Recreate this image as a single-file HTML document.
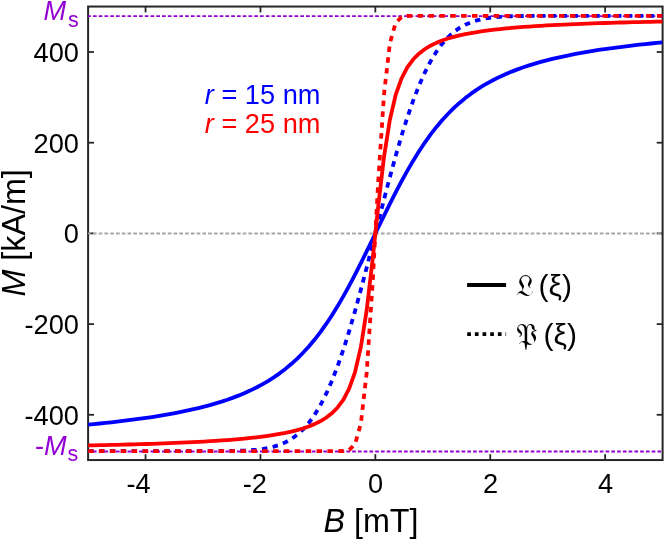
<!DOCTYPE html>
<html><head><meta charset="utf-8"><title>M-B curves</title>
<style>html,body{margin:0;padding:0;background:#fff;}body{width:665px;height:540px;overflow:hidden;font-family:"Liberation Sans",sans-serif;}</style></head>
<body>
<svg width="665" height="540" viewBox="0 0 665 540" style="display:block;will-change:transform">
<rect width="665" height="540" fill="#fff"/>
<defs><clipPath id="c"><rect x="88.1" y="5.55" width="574.5" height="455.5"/></clipPath></defs>
<rect x="88.1" y="6.55" width="574.5" height="453.5" fill="none" stroke="#262626" stroke-width="2.0"/>
<line x1="145.55" x2="145.55" y1="460.05" y2="454.15000000000003" stroke="#262626" stroke-width="1.8"/>
<line x1="145.55" x2="145.55" y1="6.55" y2="12.45" stroke="#262626" stroke-width="1.8"/>
<line x1="260.45" x2="260.45" y1="460.05" y2="454.15000000000003" stroke="#262626" stroke-width="1.8"/>
<line x1="260.45" x2="260.45" y1="6.55" y2="12.45" stroke="#262626" stroke-width="1.8"/>
<line x1="375.35" x2="375.35" y1="460.05" y2="454.15000000000003" stroke="#262626" stroke-width="1.8"/>
<line x1="375.35" x2="375.35" y1="6.55" y2="12.45" stroke="#262626" stroke-width="1.8"/>
<line x1="490.25" x2="490.25" y1="460.05" y2="454.15000000000003" stroke="#262626" stroke-width="1.8"/>
<line x1="490.25" x2="490.25" y1="6.55" y2="12.45" stroke="#262626" stroke-width="1.8"/>
<line x1="605.15" x2="605.15" y1="460.05" y2="454.15000000000003" stroke="#262626" stroke-width="1.8"/>
<line x1="605.15" x2="605.15" y1="6.55" y2="12.45" stroke="#262626" stroke-width="1.8"/>
<line x1="88.1" x2="94.0" y1="414.80" y2="414.80" stroke="#262626" stroke-width="1.8"/>
<line x1="662.6" x2="656.7" y1="414.80" y2="414.80" stroke="#262626" stroke-width="1.8"/>
<line x1="88.1" x2="94.0" y1="324.10" y2="324.10" stroke="#262626" stroke-width="1.8"/>
<line x1="662.6" x2="656.7" y1="324.10" y2="324.10" stroke="#262626" stroke-width="1.8"/>
<line x1="88.1" x2="94.0" y1="233.40" y2="233.40" stroke="#262626" stroke-width="1.8"/>
<line x1="662.6" x2="656.7" y1="233.40" y2="233.40" stroke="#262626" stroke-width="1.8"/>
<line x1="88.1" x2="94.0" y1="142.70" y2="142.70" stroke="#262626" stroke-width="1.8"/>
<line x1="662.6" x2="656.7" y1="142.70" y2="142.70" stroke="#262626" stroke-width="1.8"/>
<line x1="88.1" x2="94.0" y1="52.00" y2="52.00" stroke="#262626" stroke-width="1.8"/>
<line x1="662.6" x2="656.7" y1="52.00" y2="52.00" stroke="#262626" stroke-width="1.8"/>
<line x1="88.1" x2="662.6" y1="233.45" y2="233.45" stroke="#a6a6a6" stroke-width="1.9" stroke-dasharray="3.7 2.06" stroke-dashoffset="0.92"/>
<line x1="88.1" x2="662.6" y1="16.12" y2="16.12" stroke="#9400d3" stroke-width="1.8" stroke-dasharray="3.7 2.06" stroke-dashoffset="0.92"/>
<line x1="88.1" x2="662.6" y1="451.48" y2="451.48" stroke="#9400d3" stroke-width="1.8" stroke-dasharray="3.7 2.06" stroke-dashoffset="0.92"/>
<g clip-path="url(#c)" fill="none" stroke-linejoin="round" transform="translate(0,0.2)">
<path d="M88.10,424.41 L93.90,423.86 L99.71,423.29 L105.51,422.69 L111.31,422.07 L117.12,421.42 L122.92,420.74 L128.72,420.03 L134.52,419.28 L140.33,418.50 L146.13,417.68 L151.93,416.82 L157.74,415.90 L163.54,414.94 L169.34,413.93 L175.15,412.86 L180.95,411.72 L186.75,410.52 L192.55,409.23 L198.36,407.87 L204.16,406.42 L209.96,404.86 L215.77,403.20 L221.57,401.41 L227.37,399.49 L233.18,397.42 L238.98,395.19 L244.78,392.77 L250.58,390.15 L256.39,387.31 L262.19,384.21 L267.99,380.83 L273.80,377.15 L279.60,373.12 L285.40,368.71 L291.21,363.88 L297.01,358.59 L302.81,352.81 L308.62,346.50 L314.42,339.61 L320.22,332.13 L326.02,324.02 L331.83,315.29 L337.63,305.92 L343.43,295.96 L349.24,285.44 L355.04,274.42 L360.84,262.98 L366.65,251.24 L372.45,239.30 L378.25,227.30 L384.05,215.36 L389.86,203.62 L395.66,192.18 L401.46,181.16 L407.27,170.64 L413.07,160.68 L418.87,151.31 L424.68,142.58 L430.48,134.47 L436.28,126.99 L442.08,120.10 L447.89,113.79 L453.69,108.01 L459.49,102.72 L465.30,97.89 L471.10,93.48 L476.90,89.45 L482.71,85.77 L488.51,82.39 L494.31,79.29 L500.12,76.45 L505.92,73.83 L511.72,71.41 L517.52,69.18 L523.33,67.11 L529.13,65.19 L534.93,63.40 L540.74,61.74 L546.54,60.18 L552.34,58.73 L558.15,57.37 L563.95,56.08 L569.75,54.88 L575.55,53.74 L581.36,52.67 L587.16,51.66 L592.96,50.70 L598.77,49.78 L604.57,48.92 L610.37,48.10 L616.18,47.32 L621.98,46.57 L627.78,45.86 L633.58,45.18 L639.39,44.53 L645.19,43.91 L650.99,43.31 L656.80,42.74 L662.60,42.19" stroke="#0000ff" stroke-width="3.8"/>
<path d="M88.10,450.98 L93.90,450.98 L99.71,450.98 L105.51,450.98 L111.31,450.98 L117.12,450.98 L122.92,450.98 L128.72,450.98 L134.52,450.98 L140.33,450.98 L146.13,450.98 L151.93,450.98 L157.74,450.98 L163.54,450.98 L169.34,450.98 L175.15,450.98 L180.95,450.98 L186.75,450.98 L192.55,450.97 L198.36,450.97 L204.16,450.96 L209.96,450.94 L215.77,450.92 L221.57,450.88 L227.37,450.81 L233.18,450.72 L238.98,450.56 L244.78,450.33 L250.58,449.99 L256.39,449.50 L262.19,448.80 L267.99,447.81 L273.80,446.44 L279.60,444.59 L285.40,442.12 L291.21,438.89 L297.01,434.73 L302.81,429.46 L308.62,422.92 L314.42,414.93 L320.22,405.33 L326.02,394.01 L331.83,380.88 L337.63,365.92 L343.43,349.17 L349.24,330.74 L355.04,310.80 L360.84,289.61 L366.65,267.48 L372.45,244.76 L378.25,221.84 L384.05,199.12 L389.86,176.99 L395.66,155.80 L401.46,135.86 L407.27,117.43 L413.07,100.68 L418.87,85.72 L424.68,72.59 L430.48,61.27 L436.28,51.67 L442.08,43.68 L447.89,37.14 L453.69,31.87 L459.49,27.71 L465.30,24.48 L471.10,22.01 L476.90,20.16 L482.71,18.79 L488.51,17.80 L494.31,17.10 L500.12,16.61 L505.92,16.27 L511.72,16.04 L517.52,15.88 L523.33,15.79 L529.13,15.72 L534.93,15.68 L540.74,15.66 L546.54,15.64 L552.34,15.63 L558.15,15.63 L563.95,15.62 L569.75,15.62 L575.55,15.62 L581.36,15.62 L587.16,15.62 L592.96,15.62 L598.77,15.62 L604.57,15.62 L610.37,15.62 L616.18,15.62 L621.98,15.62 L627.78,15.62 L633.58,15.62 L639.39,15.62 L645.19,15.62 L650.99,15.62 L656.80,15.62 L662.60,15.62" stroke="#0000ff" stroke-width="3.8" stroke-dasharray="5.5 5.37"/>
<path d="M88.10,445.24 L93.90,445.12 L99.71,445.00 L105.51,444.87 L111.31,444.74 L117.12,444.60 L122.92,444.45 L128.72,444.29 L134.52,444.13 L140.33,443.96 L146.13,443.79 L151.93,443.60 L157.74,443.40 L163.54,443.20 L169.34,442.98 L175.15,442.74 L180.95,442.50 L186.75,442.24 L192.55,441.96 L198.36,441.66 L204.16,441.35 L209.96,441.01 L215.77,440.65 L221.57,440.26 L227.37,439.84 L233.18,439.38 L238.98,438.89 L244.78,438.35 L250.58,437.76 L256.39,437.12 L262.19,436.41 L267.99,435.62 L273.80,434.74 L279.60,433.76 L285.40,432.65 L291.21,431.39 L297.01,429.93 L302.81,428.25 L308.62,426.27 L314.42,423.92 L320.22,421.07 L326.02,417.55 L331.83,413.10 L337.63,407.29 L343.43,399.42 L349.24,388.28 L355.04,371.85 L360.84,346.98 L366.65,310.16 L372.45,260.83 L378.25,205.77 L384.05,156.44 L389.86,119.62 L395.66,94.75 L401.46,78.32 L407.27,67.18 L413.07,59.31 L418.87,53.50 L424.68,49.05 L430.48,45.53 L436.28,42.68 L442.08,40.33 L447.89,38.35 L453.69,36.67 L459.49,35.21 L465.30,33.95 L471.10,32.84 L476.90,31.86 L482.71,30.98 L488.51,30.19 L494.31,29.48 L500.12,28.84 L505.92,28.25 L511.72,27.71 L517.52,27.22 L523.33,26.76 L529.13,26.34 L534.93,25.95 L540.74,25.59 L546.54,25.25 L552.34,24.94 L558.15,24.64 L563.95,24.36 L569.75,24.10 L575.55,23.86 L581.36,23.62 L587.16,23.40 L592.96,23.20 L598.77,23.00 L604.57,22.81 L610.37,22.64 L616.18,22.47 L621.98,22.31 L627.78,22.15 L633.58,22.00 L639.39,21.86 L645.19,21.73 L650.99,21.60 L656.80,21.48 L662.60,21.36" stroke="#ff0000" stroke-width="3.8"/>
<path d="M88.10,450.98 L93.90,450.98 L99.71,450.98 L105.51,450.98 L111.31,450.98 L117.12,450.98 L122.92,450.98 L128.72,450.98 L134.52,450.98 L140.33,450.98 L146.13,450.98 L151.93,450.98 L157.74,450.98 L163.54,450.98 L169.34,450.98 L175.15,450.98 L180.95,450.98 L186.75,450.98 L192.55,450.98 L198.36,450.98 L204.16,450.98 L209.96,450.98 L215.77,450.98 L221.57,450.98 L227.37,450.98 L233.18,450.98 L238.98,450.98 L244.78,450.98 L250.58,450.98 L256.39,450.98 L262.19,450.98 L267.99,450.98 L273.80,450.98 L279.60,450.98 L285.40,450.98 L291.21,450.98 L297.01,450.98 L302.81,450.98 L308.62,450.98 L314.42,450.98 L320.22,450.98 L326.02,450.98 L331.83,450.98 L337.63,450.96 L343.43,450.81 L349.24,449.69 L355.04,443.93 L360.84,423.45 L366.65,372.80 L372.45,285.57 L378.25,181.03 L384.05,93.80 L389.86,43.15 L395.66,22.67 L401.46,16.91 L407.27,15.79 L413.07,15.64 L418.87,15.62 L424.68,15.62 L430.48,15.62 L436.28,15.62 L442.08,15.62 L447.89,15.62 L453.69,15.62 L459.49,15.62 L465.30,15.62 L471.10,15.62 L476.90,15.62 L482.71,15.62 L488.51,15.62 L494.31,15.62 L500.12,15.62 L505.92,15.62 L511.72,15.62 L517.52,15.62 L523.33,15.62 L529.13,15.62 L534.93,15.62 L540.74,15.62 L546.54,15.62 L552.34,15.62 L558.15,15.62 L563.95,15.62 L569.75,15.62 L575.55,15.62 L581.36,15.62 L587.16,15.62 L592.96,15.62 L598.77,15.62 L604.57,15.62 L610.37,15.62 L616.18,15.62 L621.98,15.62 L627.78,15.62 L633.58,15.62 L639.39,15.62 L645.19,15.62 L650.99,15.62 L656.80,15.62 L662.60,15.62" stroke="#ff0000" stroke-width="3.8" stroke-dasharray="5.5 5.378"/>
</g>
<g font-family="Liberation Sans, sans-serif" font-size="27.2" fill="#000">
<text x="150.75" y="493.2" text-anchor="end">-4</text>
<text x="266.85" y="493.2" text-anchor="end">-2</text>
<text x="375.65" y="493.2" text-anchor="middle">0</text>
<text x="490.55" y="493.2" text-anchor="middle">2</text>
<text x="605.45" y="493.2" text-anchor="middle">4</text>
<text x="78.9" y="61.80" text-anchor="end">400</text>
<text x="78.9" y="152.50" text-anchor="end">200</text>
<text x="78.9" y="243.20" text-anchor="end">0</text>
<text x="78.9" y="333.90" text-anchor="end">-200</text>
<text x="78.9" y="424.60" text-anchor="end">-400</text>
</g>
<g font-family="Liberation Sans, sans-serif" font-size="27.2" fill="#9400d3">
<text x="43.5" y="20.3"><tspan font-style="italic">M</tspan><tspan font-size="21.5" dy="7" dx="1.8">s</tspan></text>
<text x="35" y="455.48">-<tspan font-style="italic">M</tspan><tspan font-size="21.5" dy="5.8" dx="0.9">s</tspan></text>
</g>
<text x="323.4" y="531.6" font-family="Liberation Sans, sans-serif" font-size="32.3" fill="#000"><tspan font-style="italic">B</tspan> [mT]</text>
<text transform="translate(24.9,296.6) rotate(-90)" font-family="Liberation Sans, sans-serif" font-size="32.3" fill="#000"><tspan font-style="italic">M</tspan> [kA/m]</text>
<text x="204.8" y="103.8" font-family="Liberation Sans, sans-serif" font-size="27.2" fill="#0000ff"><tspan font-style="italic">r</tspan> = 15 nm</text>
<text x="204.8" y="133.2" font-family="Liberation Sans, sans-serif" font-size="27.2" fill="#ff0000"><tspan font-style="italic">r</tspan> = 25 nm</text>
<line x1="467.1" x2="506.1" y1="285" y2="285" stroke="#000" stroke-width="4"/>
<line x1="467.2" x2="506.1" y1="334.1" y2="334.1" stroke="#000" stroke-width="3.9" stroke-dasharray="3.7 3.97"/>
<text x="516" y="295.5" font-family="'Liberation Sans', 'DejaVu Sans', sans-serif" font-size="30" fill="#000">𝔏</text>
<text x="538.5" y="295.5" font-family="'Liberation Sans', 'DejaVu Sans', sans-serif" font-size="30" fill="#000">(ξ)</text>
<text x="515.5" y="345.2" font-family="'Liberation Sans', 'DejaVu Sans', sans-serif" font-size="30" fill="#000">𝔓</text>
<text x="543.5" y="345.2" font-family="'Liberation Sans', 'DejaVu Sans', sans-serif" font-size="30" fill="#000">(ξ)</text>
</svg>
</body></html>
